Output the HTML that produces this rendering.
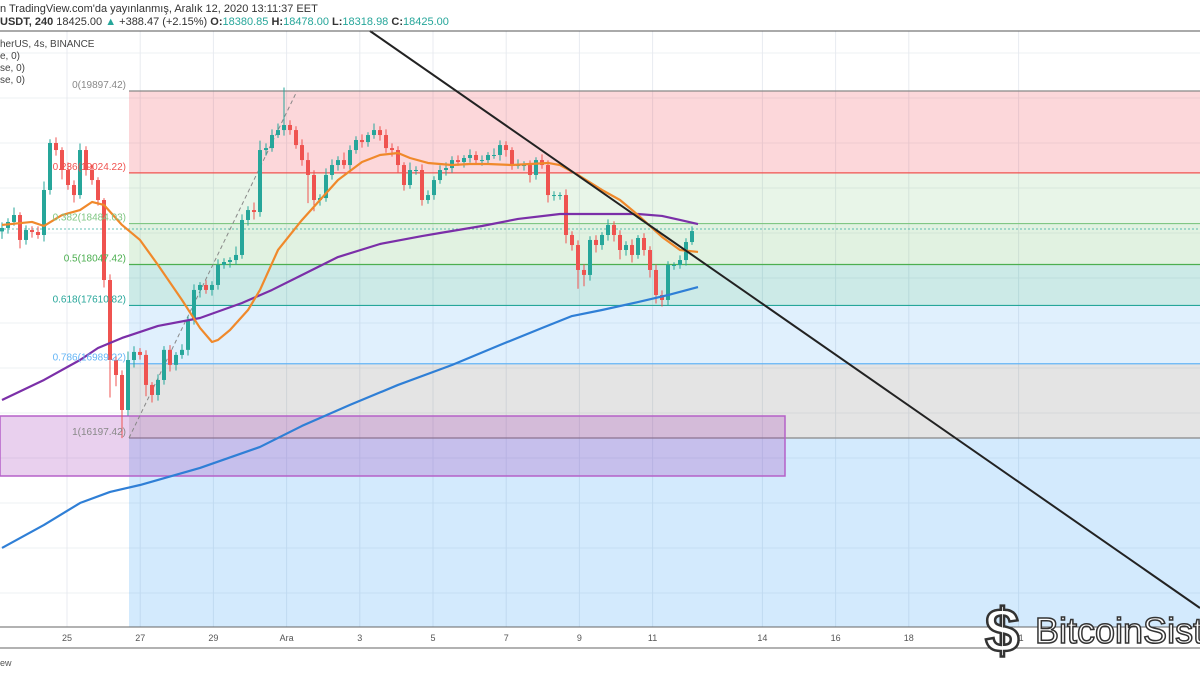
<!DOCTYPE html>
<html><head><meta charset="utf-8"><style>
body{margin:0;width:1200px;height:675px;overflow:hidden;background:#fff;font-family:"Liberation Sans",sans-serif}
</style></head><body>
<svg width="1200" height="675" xmlns="http://www.w3.org/2000/svg" font-family="Liberation Sans, sans-serif">
<g id="grid"></g>
<g id="zones"></g>
<rect x="0" y="416" width="785" height="60" fill="rgba(156,39,176,0.22)" stroke="#b561c8" stroke-width="1.5"/>
<line x1="0" y1="229" x2="1200" y2="229" stroke="#26a69a" stroke-dasharray="2,2" stroke-width="1" opacity="0.7"/>
<line x1="129" y1="438" x2="297" y2="91" stroke="#888" stroke-dasharray="4,3" stroke-width="1"/>
<g id="candles"></g>
<g id="mas"></g>
<line x1="370" y1="31" x2="1200" y2="608" stroke="#222" stroke-width="2"/>
<g id="fiblabels" font-size="10" text-anchor="end"></g>
<line x1="0" y1="31" x2="1200" y2="31" stroke="#555" stroke-width="1"/>
<line x1="0" y1="627" x2="1200" y2="627" stroke="#666" stroke-width="1"/>
<rect x="0" y="628" width="1200" height="20" fill="#fff"/>
<line x1="0" y1="648" x2="1200" y2="648" stroke="#666" stroke-width="1"/>
<g id="xlabels" font-size="9" fill="#555" text-anchor="middle"></g>
<text x="0" y="12" font-size="11" fill="#333">n TradingView.com'da yayınlanmış, Aralık 12, 2020 13:11:37 EET</text>
<text x="0" y="25" font-size="11" fill="#333"><tspan font-weight="bold">USDT, 240</tspan> 18425.00 <tspan fill="#26a69a">▲</tspan> +388.47 (+2.15%) <tspan font-weight="bold">O:</tspan><tspan fill="#26a69a">18380.85</tspan> <tspan font-weight="bold">H:</tspan><tspan fill="#26a69a">18478.00</tspan> <tspan font-weight="bold">L:</tspan><tspan fill="#26a69a">18318.98</tspan> <tspan font-weight="bold">C:</tspan><tspan fill="#26a69a">18425.00</tspan></text>
<text x="0" y="47" font-size="10" fill="#444">herUS, 4s, BINANCE</text>
<text x="0" y="59" font-size="10" fill="#444">e, 0)</text>
<text x="0" y="71" font-size="10" fill="#444">se, 0)</text>
<text x="0" y="83" font-size="10" fill="#444">se, 0)</text>
<text x="0" y="666" font-size="9" fill="#555">ew</text>
<g>
<text x="985" y="652" font-size="62" font-weight="bold" fill="#fff" stroke="#333" stroke-width="2.5">$</text>
<text x="1035" y="643" font-size="36" fill="#fff" stroke="#333" stroke-width="1.5">BitcoinSistemi</text>
</g>
</svg>
<script>
const categories=["25","27","29","Ara","3","5","7","9","11","14","16","18","21"];
const catDays=[0,2,4,6,8,10,12,14,16,19,21,23,26];
const closes=[18437,18501,18575,18309,18415,18394,18362,18842,19343,19268,19055,18895,18788,19268,19055,18948,18735,17882,17029,16869,16496,17029,17115,17083,16763,16656,16816,17137,16977,17083,17137,17456,17776,17829,17776,17829,18042,18074,18095,18149,18522,18628,18607,19268,19289,19428,19481,19535,19481,19321,19161,19002,18735,18756,19002,19108,19161,19108,19268,19375,19353,19428,19481,19428,19289,19268,19108,18895,19055,19055,18735,18788,18948,19055,19076,19161,19140,19183,19215,19161,19161,19215,19215,19321,19268,19108,19108,19108,19002,19161,19108,18788,18788,18788,18362,18255,17989,17936,18309,18255,18362,18469,18362,18202,18255,18149,18330,18202,17989,17722,17669,18042,18042,18095,18287,18404];
const wickUp=[60,40,80,30,50,40,60,90,40,60,30,80,50,70,40,60,30,20,60,40,50,90,60,40,50,30,60,40,50,30,60,40,60,30,50,40,60,40,30,90,60,40,80,100,50,60,70,400,50,40,60,80,50,40,70,60,40,80,50,40,60,30,70,40,60,50,40,30,80,40,60,50,40,50,60,40,50,30,60,40,50,30,70,50,40,30,60,40,50,30,60,50,40,30,60,40,50,60,40,50,30,60,40,50,40,60,30,50,40,60,50,40,30,50,40,50];
const wickDn=[80,60,40,90,50,60,40,70,50,60,100,50,80,40,60,50,60,80,400,120,300,60,80,50,120,80,60,50,70,60,40,60,50,80,40,60,50,40,60,50,40,60,80,50,60,40,30,60,50,40,60,300,120,60,40,50,60,40,50,40,60,50,40,60,50,70,80,60,40,50,60,40,50,40,60,50,40,60,50,40,60,50,40,60,70,50,40,60,80,50,40,80,60,50,90,60,200,120,60,80,50,60,70,100,60,80,40,60,80,90,70,60,50,40,60,30];
const maIdx=[0,5,7,10,13,15,17,20,23,26,30,33,35,36,38,41,43,46,50,53,56,60,63,66,68,71,75,78,81,85,88,91,93,96,100,103,106,110,113,116];
const orange=[18469,18501,18458,18575,18628,18714,18682,18469,18309,18042,17669,17371,17221,17243,17349,17562,17776,18202,18522,18735,18948,19140,19215,19236,19183,19130,19108,19119,19119,19108,19119,19130,19108,19002,18842,18735,18575,18341,18202,18181];
const purpIdx=[0,7,13,16,20,26,33,40,45,50,56,63,70,73,80,86,93,100,106,110,113,116];
const purple=[16603,16816,17029,17157,17264,17392,17477,17637,17776,17935,18127,18266,18351,18383,18458,18533,18586,18586,18586,18565,18522,18479];
const blueIdx=[0,7,13,18,23,33,43,50,58,66,75,83,90,95,100,106,111,116];
const blue=[15025,15270,15504,15622,15696,15878,16102,16326,16550,16763,16976,17189,17370,17498,17562,17647,17722,17807];
const fibLevels=[0,0.236,0.382,0.5,0.618,0.786,1];
const fibPrices=[19897.42,19024.22,18484.03,18047.42,17610.82,16989.22,16197.42];
const NS="http://www.w3.org/2000/svg";
const y=p=>91+(19897.42-p)*0.09378;
const xc=i=>2+i*6;
const xd=d=>67+d*36.6;
function mk(t,a,parent){const e=document.createElementNS(NS,t);for(const k in a)e.setAttribute(k,a[k]);parent.appendChild(e);return e;}
const grid=document.getElementById('grid');
for(let gy=53;gy<628;gy+=45){const l=mk('line',{x1:0,x2:1200,y1:gy,y2:gy,stroke:'#eef0f3'},grid);

}
catDays.forEach(d=>{const l=mk('line',{x1:xd(d),x2:xd(d),y1:31,y2:627,stroke:'#e8ebf0'},grid);

});
const zc=['rgba(242,54,69,0.2)','rgba(76,175,80,0.13)','rgba(76,175,80,0.17)','rgba(0,150,136,0.2)','rgba(33,150,243,0.14)','rgba(120,120,120,0.2)'];
const lc=['#888','#f05350','#81c784','#4caf50','#26a69a','#64b5f6','#888'];
const zones=document.getElementById('zones');
const z0=mk('rect',{x:129,y:y(fibPrices[6]),width:1071,height:627-y(fibPrices[6]),fill:'rgba(33,150,243,0.2)'},zones);


for(let i=0;i<6;i++){const r=mk('rect',{x:129,y:y(fibPrices[i]),width:1071,height:y(fibPrices[i+1])-y(fibPrices[i]),fill:zc[i]},zones);

}
const fl=document.getElementById('fiblabels');
fibPrices.forEach((p,i)=>{const l=mk('line',{x1:129,x2:1200,y1:y(p),y2:y(p),stroke:lc[i],'stroke-width':1.2},zones);


const t=mk('text',{x:126,y:y(p)-3,fill:lc[i]},fl);t.textContent=fibLevels[i]+'('+p.toFixed(2)+')';

});
const cg=document.getElementById('candles');
closes.forEach((c,i)=>{const o=i?closes[i-1]:18400;const up=c>=o;const col=up?'#26a69a':'#ef5350';
const hi=Math.max(o,c)+wickUp[i],lo=Math.min(o,c)-wickDn[i];
const w=mk('line',{x1:xc(i),x2:xc(i),y1:y(hi),y2:y(lo),stroke:col,'stroke-width':1},cg);


const b=mk('rect',{x:xc(i)-2,y:y(Math.max(o,c)),width:4,height:Math.max(1,Math.abs(y(o)-y(c))),fill:col},cg);

});
const mg=document.getElementById('mas');
function poly(idx,vals,col,name){const p=mk('polyline',{points:idx.map((k,j)=>xc(k)+','+y(vals[j])).join(' '),fill:'none',stroke:col,'stroke-width':2.2,'stroke-linejoin':'round'},mg);

}
poly(blueIdx,blue,'#2f7fd6','ma-blue');
poly(purpIdx,purple,'#7b2fa8','ma-purple');
poly(maIdx,orange,'#f0892b','ma-orange');
const xl=document.getElementById('xlabels');
categories.forEach((c,i)=>{const t=mk('text',{x:xd(catDays[i]),y:641},xl);t.textContent=c;

});
</script>
</body></html>
